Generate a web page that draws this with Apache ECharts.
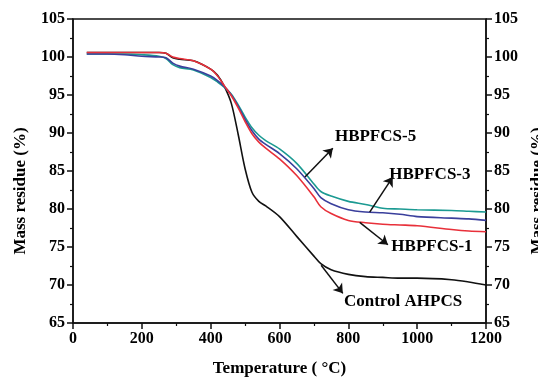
<!DOCTYPE html>
<html>
<head>
<meta charset="utf-8">
<script src="https://cdn.jsdelivr.net/npm/echarts@6/dist/echarts.min.js"></script>
<style>
  html, body { margin: 0; padding: 0; background: #fff; }
  #chart { width: 538px; height: 379px; }
</style>
</head>
<body>
<div id="chart"></div>
<script>
// temperature grid (°C)
const temps = [40, 100, 150, 200, 250, 270, 290, 310, 350, 400, 420, 440, 460, 480, 500, 520, 540, 560, 600, 650, 700, 720, 750, 800, 850, 900, 950, 1000, 1100, 1150, 1200];

// mass residue (%)
const controlAHPCS = [100.6, 100.6, 100.6, 100.6, 100.6, 100.5, 99.9, 99.7, 99.5, 98.4, 97.6, 96.1, 93.9, 89.8, 85.3, 82.2, 81.0, 80.4, 79.0, 76.4, 73.8, 72.8, 72.0, 71.4, 71.1, 71.0, 70.9, 70.9, 70.7, 70.4, 70.0];
const hbpfcs1 = [100.6, 100.6, 100.6, 100.6, 100.6, 100.5, 100.0, 99.8, 99.5, 98.4, 97.5, 96.2, 94.9, 93.3, 91.5, 89.9, 88.8, 88.0, 86.6, 84.4, 81.6, 80.3, 79.4, 78.5, 78.2, 78.0, 77.9, 77.8, 77.3, 77.1, 77.0];
const hbpfcs3 = [100.4, 100.4, 100.3, 100.1, 100.0, 99.9, 99.2, 98.8, 98.4, 97.5, 96.9, 96.1, 95.0, 93.5, 91.8, 90.3, 89.2, 88.5, 87.3, 85.3, 82.7, 81.5, 80.7, 79.9, 79.6, 79.5, 79.3, 79.0, 78.8, 78.7, 78.5];
const hbpfcs5 = [100.4, 100.4, 100.4, 100.3, 100.1, 99.8, 99.0, 98.6, 98.3, 97.3, 96.7, 96.0, 95.1, 93.7, 92.1, 90.7, 89.7, 89.0, 87.9, 86.0, 83.3, 82.3, 81.7, 81.0, 80.6, 80.1, 80.0, 79.9, 79.8, 79.7, 79.6];

// annotations: label text, label centre, arrow tail (on curve), arrow head
const noteNames = ['HBPFCS-5', 'HBPFCS-3', 'HBPFCS-1', 'Control AHPCS'];
const notePos = [[879, 89.5], [1037, 84.5], [1043, 75.0], [959, 67.8]];
const arrowFrom = [[674, 84.2], [862, 79.6], [833, 78.25], [721, 72.6]];
const arrowTo = [[755, 88.0], [929, 84.2], [915, 75.3], [784, 68.9]];

const font = 'Liberation Serif, Times New Roman, serif';
const ink = '#000';
const pair = arr => temps.map((t, i) => [t, arr[i]]);

const chart = echarts.init(document.getElementById('chart'));

const yAxisBase = {
    type: 'value',
    min: 65,
    max: 105,
    interval: 5,
    nameLocation: 'middle',
    nameRotate: 90,
    nameTextStyle: { color: ink, fontFamily: font, fontWeight: 'bold', fontSize: 17, padding: [0, 40, 0, 0] },
    axisLine: { show: true, lineStyle: { color: '#111', width: 1.5 } },
    axisTick: { show: true, inside: false, length: 6, lineStyle: { color: '#111', width: 1.5 } },
    minorTick: { show: true, splitNumber: 2, length: 3, lineStyle: { color: '#111', width: 1.2 } },
    axisLabel: { color: ink, fontFamily: font, fontWeight: 'bold', fontSize: 16, margin: 8 },
    splitLine: { show: false }
};

chart.setOption({
    animation: false,
    backgroundColor: '#fff',
    grid: {
        left: 73, right: 52, top: 19, bottom: 56,
        outerBoundsMode: 'none',
        containLabel: false,
        show: true, borderColor: '#111', borderWidth: 1.5
    },
    xAxis: {
        type: 'value',
        min: 0,
        max: 1200,
        interval: 200,
        name: 'Temperature ( °C)',
        nameLocation: 'middle',
        nameGap: 37,
        nameTextStyle: { color: ink, fontFamily: font, fontWeight: 'bold', fontSize: 17 },
        axisLine: { lineStyle: { color: '#111', width: 1.5 } },
        axisTick: { inside: false, length: 6, lineStyle: { color: '#111', width: 1.5 } },
        minorTick: { show: true, splitNumber: 2, length: 3, lineStyle: { color: '#111', width: 1.2 } },
        axisLabel: { color: ink, fontFamily: font, fontWeight: 'bold', fontSize: 16, margin: 8, formatter: v => String(v) },
        splitLine: { show: false }
    },
    yAxis: [
        Object.assign({}, yAxisBase, { position: 'left', name: 'Mass residue (%)', nameGap: 44 }),
        Object.assign({}, yAxisBase, { position: 'right', name: 'Mass residue (%)', nameGap: 31 })
    ],
    series: [
        { name: 'Control AHPCS', type: 'line', data: pair(controlAHPCS), smooth: 0.3, symbol: 'none', lineStyle: { color: '#111', width: 1.6 } },
        { name: 'HBPFCS-5', type: 'line', data: pair(hbpfcs5), smooth: 0.3, symbol: 'none', lineStyle: { color: '#1b9a92', width: 1.6 } },
        { name: 'HBPFCS-3', type: 'line', data: pair(hbpfcs3), smooth: 0.3, symbol: 'none', lineStyle: { color: '#3a3f9c', width: 1.6 } },
        { name: 'HBPFCS-1', type: 'line', data: pair(hbpfcs1), smooth: 0.3, symbol: 'none', lineStyle: { color: '#e8303a', width: 1.6 } },
        {
            name: 'arrows',
            type: 'line',
            data: [],
            silent: true,
            markLine: {
                silent: true,
                animation: false,
                symbol: ['none', 'arrow'],
                symbolSize: 9,
                label: { show: false },
                lineStyle: { color: '#111', width: 1.5, type: 'solid' },
                emphasis: { disabled: true },
                data: arrowFrom.map((p, i) => [{ coord: p }, { coord: arrowTo[i] }])
            }
        },
        {
            name: 'notes',
            type: 'scatter',
            symbolSize: 0,
            silent: true,
            itemStyle: { opacity: 1, color: ink },
            data: noteNames.map((n, i) => ({ name: n, value: notePos[i] })),
            label: {
                show: true,
                position: 'inside',
                formatter: '{b}',
                color: ink,
                opacity: 1,
                textBorderWidth: 0,
                fontFamily: font,
                fontWeight: 'bold',
                fontSize: 17
            }
        }
    ]
});
</script>
</body>
</html>
